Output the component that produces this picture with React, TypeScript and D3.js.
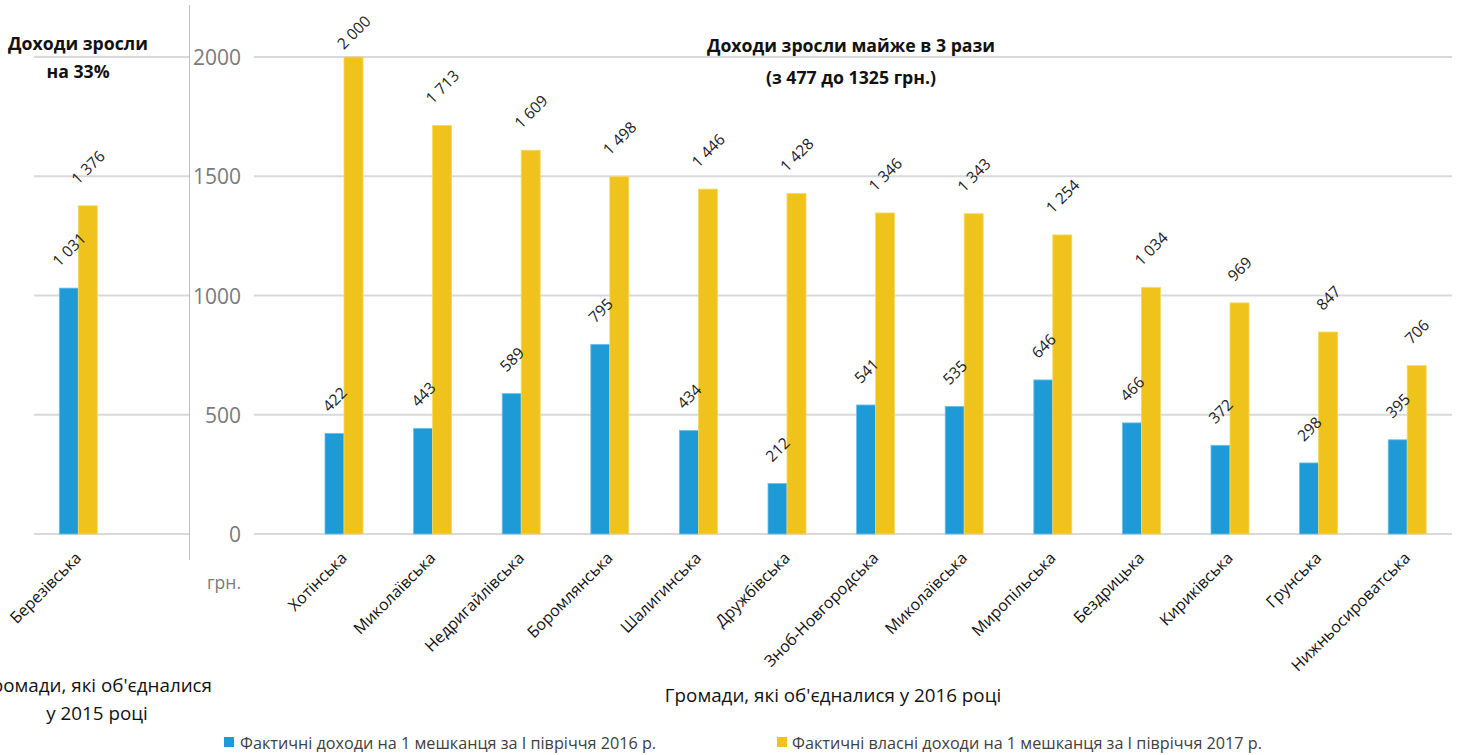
import React from "react";
import * as d3 from "d3";

const W = 1458;
const H = 755;

// ---- data ----
const categories2015 = ["Березівська"];
const income2016_2015group = [1031];
const ownIncome2017_2015group = [1376];

const categories2016 = [
  "Хотінська",
  "Миколаївська",
  "Недригайлівська",
  "Боромлянська",
  "Шалигинська",
  "Дружбівська",
  "Зноб-Новгородська",
  "Миколаївська ",
  "Миропільська",
  "Бездрицька",
  "Кириківська",
  "Грунська",
  "Нижньосироватська",
];
const income2016 = [422, 443, 589, 795, 434, 212, 541, 535, 646, 466, 372, 298, 395];
const ownIncome2017 = [2000, 1713, 1609, 1498, 1446, 1428, 1346, 1343, 1254, 1034, 969, 847, 706];

const yTicks = [0, 500, 1000, 1500, 2000];
const seriesNames = [
  "Фактичні доходи на 1 мешканця за І півріччя 2016 р.",
  "Фактичні власні доходи на 1 мешканця за І півріччя 2017 р.",
];
const leftTitle = ["Доходи зросли", "на 33%"];
const rightTitle = ["Доходи зросли майже в 3 рази", "(з 477 до 1325 грн.)"];
const leftAxisTitle = ["Громади, які об'єдналися", "у 2015 році"];
const rightAxisTitle = "Громади, які об'єдналися у 2016 році";
const unitLabel = "грн.";

// ---- style ----
const BLUE = "#1E9BD7";
const YELLOW = "#F0C31C";
const GRID = "#d9d9d9";
const FONT = "'Open Sans', 'Noto Sans', sans-serif";
const VAL_FS = 15.5;

let _ctx: CanvasRenderingContext2D | null = null;
function measure(text: string, size: number, weight = "normal"): number {
  if (!_ctx) {
    const c = document.createElement("canvas");
    _ctx = c.getContext("2d");
  }
  if (!_ctx) return text.length * size * 0.55;
  _ctx.font = `${weight} ${size}px 'Open Sans'`;
  return _ctx.measureText(text).width;
}

const fmt = (v: number) => {
  const s = String(v);
  return s.length > 3 ? s.slice(0, s.length - 3) + " " + s.slice(s.length - 3) : s;
};

function ValueLabel({ cx, top, value }: { cx: number; top: number; value: number }) {
  const text = fmt(value);
  const L = measure(text, VAL_FS);
  let cy = top - 21 - 0.3535 * (L + 0.72 * VAL_FS);
  cy = Math.max(cy, 32);
  return (
    <text
      x={cx}
      y={cy}
      transform={`rotate(-45 ${cx} ${cy})`}
      textAnchor="middle"
      dominantBaseline="central"
      fontSize={VAL_FS}
      fill="#222"
      fontFamily={FONT}
    >
      {text}
    </text>
  );
}

export default function App() {
  const y = d3.scaleLinear().domain([0, 2000]).range([534, 57]);
  const xL = d3.scaleBand().domain(categories2015).range([34, 122.6]).padding(0);
  const xR = d3.scaleBand().domain(categories2016).range([299.7, 1451.5]).padding(0);
  const bw = 19;

  const groups = [
    { x: xL, cats: categories2015, a: income2016_2015group, b: ownIncome2017_2015group },
    { x: xR, cats: categories2016, a: income2016, b: ownIncome2017 },
  ];

  return (
    <svg
      width={W}
      height={H}
      style={{ position: "absolute", left: 0, top: 0, background: "#fff" }}
      fontFamily={FONT}
    >
      {/* gridlines */}
      {yTicks.map((t) => (
        <g key={"g" + t}>
          <line x1={34} x2={190} y1={y(t)} y2={y(t)} stroke={GRID} strokeWidth={2} />
          <line x1={254} x2={1452} y1={y(t)} y2={y(t)} stroke={GRID} strokeWidth={2} />
        </g>
      ))}
      {/* vertical divider axis */}
      <line x1={189.5} x2={189.5} y1={5} y2={560} stroke="#bfbfbf" strokeWidth={1} />

      {/* y tick labels */}
      {yTicks.map((t) => (
        <text
          key={"t" + t}
          x={241}
          y={y(t)}
          textAnchor="end"
          dominantBaseline="central"
          fontSize={21}
          fill="#7a7a7a"
        >
          {t}
        </text>
      ))}
      <text x={241} y={582} textAnchor="end" dominantBaseline="central" fontSize={17.5} fill="#7a7a7a">
        {unitLabel}
      </text>

      {/* titles */}
      {leftTitle.map((s, i) => (
        <text key={"lt" + i} x={78} y={43 + i * 28} textAnchor="middle" dominantBaseline="central"
          fontSize={17.7} fontWeight="bold" fill="#111">
          {s}
        </text>
      ))}
      {rightTitle.map((s, i) => (
        <text key={"rt" + i} x={851} y={45 + i * 32} textAnchor="middle" dominantBaseline="central"
          fontSize={17.7} fontWeight="bold" fill="#111">
          {s}
        </text>
      ))}

      {/* bars */}
      {groups.map((g, gi) =>
        g.cats.map((c, i) => {
          const cx = (g.x(c) as number) + g.x.bandwidth() / 2;
          return (
            <g key={gi + "-" + i}>
              <rect x={cx - bw} y={y(g.a[i])} width={bw} height={y(0) - y(g.a[i])} fill={BLUE}
                stroke="#6cc0ea" strokeWidth={0.8} />
              <rect x={cx} y={y(g.b[i])} width={bw} height={y(0) - y(g.b[i])} fill={YELLOW}
                stroke="#f6d860" strokeWidth={0.8} />
              <ValueLabel cx={cx - bw / 2} top={y(g.a[i])} value={g.a[i]} />
              <ValueLabel cx={cx + bw / 2} top={y(g.b[i])} value={g.b[i]} />
              <text
                x={cx + 4}
                y={559}
                transform={`rotate(-45 ${cx + 4} ${559})`}
                textAnchor="end"
                fontSize={16}
                fill="#111"
              >
                {c.trim()}
              </text>
            </g>
          );
        })
      )}

      {/* axis titles */}
      {leftAxisTitle.map((s, i) => (
        <text key={"la" + i} x={97} y={685 + i * 28} textAnchor="middle" dominantBaseline="central"
          fontSize={18.8} fill="#111">
          {s}
        </text>
      ))}
      <text x={833} y={695} textAnchor="middle" dominantBaseline="central" fontSize={18.8} fill="#111">
        {rightAxisTitle}
      </text>

      {/* legend */}
      <rect x={224} y={737} width={10} height={10} fill={BLUE} />
      <text x={240} y={742.5} dominantBaseline="central" fontSize={16.2} fill="#404040">
        {seriesNames[0]}
      </text>
      <rect x={777} y={737} width={10} height={10} fill={YELLOW} />
      <text x={792} y={742.5} dominantBaseline="central" fontSize={16.2} fill="#404040">
        {seriesNames[1]}
      </text>
    </svg>
  );
}
